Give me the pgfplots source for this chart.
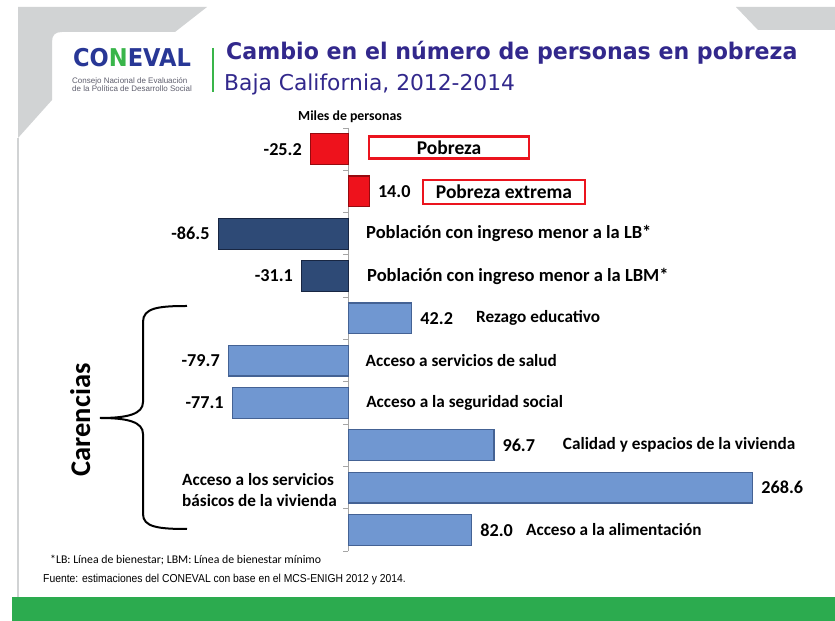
\documentclass[border=0pt]{standalone}
\usepackage{fontspec}
\usepackage{pgfplots}
\pgfplotsset{compat=1.18}
\setmainfont{Carlito}
\newfontfamily\titlefont[FakeStretch=0.965]{DejaVu Sans}
\newfontfamily\subfont{DejaVu Sans}
\newfontfamily\narrowfont[FakeStretch=0.9]{Liberation Sans}
\newfontfamily\logofont[FakeStretch=0.92]{DejaVu Sans}
\newfontfamily\logosmall{Liberation Sans}

\definecolor{titlecol}{RGB}{50,40,140}
\definecolor{lblue}{RGB}{112,151,209}
\definecolor{lbluedk}{RGB}{68,98,148}
\definecolor{navy}{RGB}{46,74,118}
\definecolor{navydk}{RGB}{24,38,66}
\definecolor{bred}{RGB}{238,18,28}
\definecolor{breddk}{RGB}{150,10,15}
\definecolor{boxred}{RGB}{235,20,30}
\definecolor{grayd}{RGB}{209,211,212}
\definecolor{greenb}{RGB}{44,171,79}
\definecolor{logoblue}{RGB}{40,55,150}
\definecolor{logogreen}{RGB}{57,181,74}
\definecolor{axgray}{RGB}{165,165,165}

\newcommand\valfont{\fontsize{18.2bp}{20bp}\selectfont\bfseries}
\newcommand\catfontA{\fontsize{18.5bp}{21bp}\selectfont\bfseries}
\newcommand\catfontB{\fontsize{17.2bp}{21bp}\selectfont\bfseries}
\newcommand\boxfont{\fontsize{19.5bp}{22bp}\selectfont\bfseries}

\begin{document}
\begin{tikzpicture}
\path[use as bounding box, fill=white] (0,0) rectangle (835bp,621bp);
\begin{scope}[x=1bp, y=-1bp, yshift=621bp]
  % slide decorations
  \fill[grayd] (18,7) -- (207,7) -- (175,32) -- (62,32)
     .. controls (55,32) and (52,35) .. (52,42) -- (52,100) -- (18,138) -- cycle;
  \fill[grayd] (736,7) -- (835,7) -- (835,30) -- (758,30) -- cycle;
  \draw[grayd, line width=1.2bp] (18,138) -- (18,597);
  \fill[greenb] (12,597) rectangle (835,621);
  % logo
  \node[anchor=base west, inner sep=0, font={\logofont\bfseries\fontsize{24.5bp}{26bp}\selectfont}]
     at (73,67) {\textcolor{logoblue}{CO}\textcolor{logogreen}{N}\textcolor{logoblue}{EVAL}};
  \node[anchor=base west, inner sep=0, text={rgb,255:red,95;green,95;blue,110}, font={\logosmall\fontsize{8bp}{9bp}\selectfont}]
     at (72,84) {Consejo Nacional de Evaluación};
  \node[anchor=base west, inner sep=0, text={rgb,255:red,95;green,95;blue,110}, font={\logosmall\fontsize{8bp}{9bp}\selectfont}]
     at (72,91.5) {de la Política de Desarrollo Social};
  \draw[logogreen, line width=2.2bp] (212.7,48) -- (212.7,92);
  % titles
  \node[anchor=base west, inner sep=0, text=titlecol, font={\titlefont\bfseries\fontsize{22.9bp}{26bp}\selectfont}]
     at (226,60) {Cambio en el número de personas en pobreza};
  \node[anchor=base west, inner sep=0, text=titlecol, font={\subfont\fontsize{21.8bp}{26bp}\selectfont}]
     at (224,91) {Baja California, 2012-2014};
  % chart annotations
  \node[inner sep=0, font={\fontsize{13.8bp}{15bp}\selectfont\bfseries}] at (350,117) {Miles de personas};
  \draw[line width=2bp] (187,306) .. controls (158,306) and (143,308) .. (143,322)
      -- (143,402) .. controls (143,414) and (128,418) .. (100,418)
      .. controls (128,418) and (143,422) .. (143,434)
      -- (143,514) .. controls (143,527) and (158,529) .. (187,529);
  \node[rotate=90, anchor=base, inner sep=0, font={\fontsize{28.5bp}{30bp}\selectfont\bfseries}] at (90,420) {Carencias};
  % footnotes
  \node[anchor=base west, inner sep=0, font={\fontsize{11.8bp}{13bp}\selectfont}] at (50,564)
     {*LB: Línea de bienestar; LBM: Línea de bienestar mínimo};
  \node[anchor=base west, inner sep=0, font={\narrowfont\fontsize{11.5bp}{13bp}\selectfont}] at (43,583)
     {Fuente: estimaciones del CONEVAL con base en el MCS-ENIGH 2012 y 2014.};
\end{scope}

\begin{axis}[
  at={(175.2bp,70bp)}, anchor=south west,
  scale only axis, width=624.8bp, height=423bp,
  xmin=-115, xmax=300, ymin=-0.5, ymax=9.5, y dir=reverse,
  hide axis, clip=false,
  xbar, bar width=0.73, bar shift=0pt,
  point meta=explicit symbolic,
  nodes near coords,
  nodes near coords style={font=\valfont, inner sep=0pt},
]
\draw[axgray, line width=1bp] (axis cs:0,-0.5) -- (axis cs:0,9.5);
\pgfplotsinvokeforeach{-0.5,0.5,1.5,2.5,3.5,4.5,5.5,6.5,7.5,8.5,9.5}{\draw[axgray, line width=0.8bp] (axis cs:0,#1) -- (axis cs:-3.3,#1);}

% red: pobreza
\addplot[fill=bred, draw=breddk, line width=1.2bp,
  every node near coord/.append style={anchor=east, xshift=-8bp}]
  coordinates {(-25.2,0) [-25.2]};
\addplot[fill=bred, draw=breddk, line width=1.2bp,
  every node near coord/.append style={anchor=west, xshift=8bp}]
  coordinates {(14.0,1) [14.0]};
% navy: ingreso
\addplot[fill=navy, draw=navydk, line width=1.2bp,
  every node near coord/.append style={anchor=east, xshift=-8bp}]
  coordinates {(-86.5,2) [-86.5] (-31.1,3) [-31.1]};
% light blue: carencias
\addplot[fill=lblue, draw=lbluedk, line width=1.2bp,
  every node near coord/.append style={anchor=east, xshift=-8bp}]
  coordinates {(-79.7,5) [-79.7] (-77.1,6) [-77.1]};
\addplot[fill=lblue, draw=lbluedk, line width=1.2bp,
  every node near coord/.append style={anchor=west, xshift=8bp}]
  coordinates {(42.2,4) [42.2] (96.7,7) [96.7] (268.6,8) [268.6] (82.0,9) [82.0]};

% category labels
\node[draw=boxred, line width=2.5bp, fill=white, minimum width=160bp, minimum height=22bp, inner sep=0pt, font=\boxfont]
  at (axis cs:66.9,-0.04) {Pobreza};
\node[draw=boxred, line width=2.5bp, fill=white, minimum width=162bp, minimum height=24bp, inner sep=0pt, font=\boxfont]
  at (axis cs:103.4,1.01) {Pobreza extrema};
\node[anchor=west, inner sep=0pt, font=\catfontA] at (axis cs:11.76,2) {Población con ingreso menor a la LB*};
\node[anchor=west, inner sep=0pt, font=\catfontA] at (axis cs:12.4,3) {Población con ingreso menor a la LBM*};
\node[anchor=west, inner sep=0pt, font=\catfontB] at (axis cs:84.8,4) {Rezago educativo};
\node[anchor=west, inner sep=0pt, font=\catfontB] at (axis cs:11.4,5) {Acceso a servicios de salud};
\node[anchor=west, inner sep=0pt, font=\catfontB] at (axis cs:11.8,6) {Acceso a la seguridad social};
\node[anchor=west, inner sep=0pt, font=\catfontB] at (axis cs:142.4,7) {Calidad y espacios de la vivienda};
\node[anchor=west, inner sep=0pt, align=left, font=\catfontB] at (axis cs:-110.5,8.05) {Acceso a los servicios\\básicos de la vivienda};
\node[anchor=west, inner sep=0pt, font=\catfontB] at (axis cs:118.0,9) {Acceso a la alimentación};
\end{axis}
\end{tikzpicture}
\end{document}
